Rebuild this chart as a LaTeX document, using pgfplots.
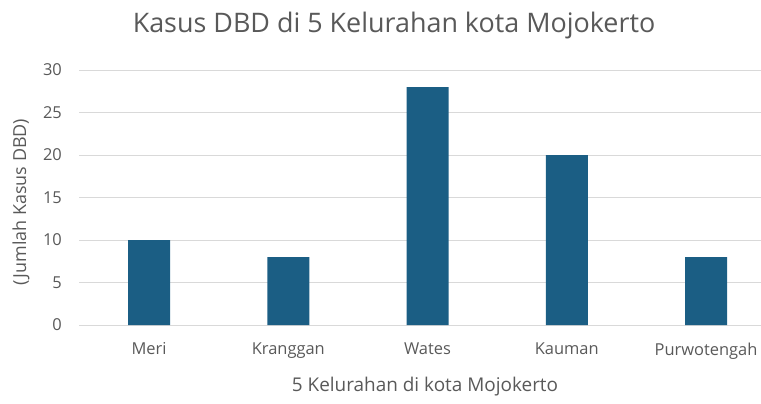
\documentclass[border=0pt]{standalone}
\usepackage{fontspec}
\setmainfont{Open Sans}
\usepackage{pgfplots}
\pgfplotsset{compat=1.18}
\definecolor{barc}{HTML}{1B5E84}
\definecolor{txt}{HTML}{595959}
\definecolor{gridc}{HTML}{D9D9D9}
\begin{document}
\begin{tikzpicture}[x=1bp,y=1bp]
\path[use as bounding box] (0,0) rectangle (761,403);
\begin{axis}[at={(79.4bp,78bp)}, anchor=south west, scale only axis,
  width=681.6bp, height=255bp,
  xmin=-0.5, xmax=4.395, ymin=0, ymax=30,
  ytick={0,5,...,30},
  xtick={0,...,4}, xticklabels={Meri,Kranggan,Wates,Kauman,Purwotengah},
  axis line style={draw=none},
  ymajorgrids, grid style={gridc, line width=0.8bp},
  major tick length=0pt,
  /pgf/number format/assume math mode=true,
  ticklabel style={font=\fontsize{16.5}{19}\selectfont, text=txt},
  xticklabel style={yshift=-14bp},
  yticklabel style={xshift=-14bp},
  clip=false,
  ]
\addplot[ybar, bar width=42bp, fill=barc, draw=none] coordinates {(0,10) (1,8) (2,28) (3,20) (4,8)};
\end{axis}
\node[text=txt, font=\fontsize{27}{31}\selectfont] at (394,377) {Kasus DBD di 5 Kelurahan kota Mojokerto};
\node[text=txt, font=\fontsize{19}{22}\selectfont] at (425,16) {5 Kelurahan di kota Mojokerto};
\node[text=txt, font=\fontsize{18}{21}\selectfont, rotate=90] at (21,201) {(Jumlah Kasus DBD)};
\end{tikzpicture}
\end{document}
